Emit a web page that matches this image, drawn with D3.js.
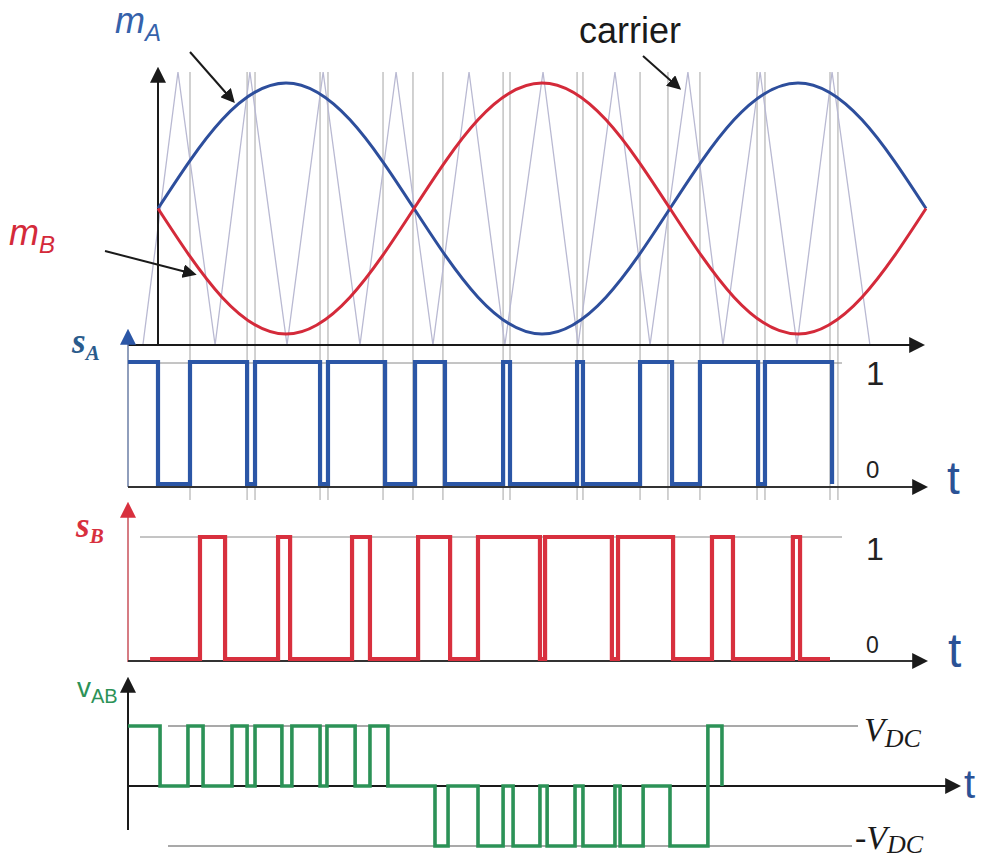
<!DOCTYPE html>
<html><head><meta charset="utf-8">
<script src="https://cdn.jsdelivr.net/npm/d3@7/dist/d3.min.js"></script>
<style>html,body{margin:0;padding:0;background:#fff;}svg{display:block;}</style>
</head><body>
<script>
// ---------- data (time in ms, modulating period 20 ms) ----------
const modT  = [0, 2.5, 5, 7.5, 10, 12.5, 15, 17.5, 20, 22.5, 25, 27.5, 30];
const mA    = [0, 0.65, 0.92, 0.65, 0, -0.65, -0.92, -0.65, 0, 0.65, 0.92, 0.65, 0];
const mB    = [0, -0.65, -0.92, -0.65, 0, 0.65, 0.92, 0.65, 0, -0.65, -0.92, -0.65, 0];
const carrierT = [-0.59, 0.78, 2.23, 3.59, 5.04, 6.45, 7.89, 9.30, 10.74, 12.15, 13.55,
                  15.04, 16.41, 17.85, 19.22, 20.70, 22.07, 23.52, 24.96, 26.33, 27.81];
const carrierV = [-1, 1, -1, 1, -1, 1, -1, 1, -1, 1, -1, 1, -1, 1, -1, 1, -1, 1, -1, 1, -1];
const switchT = [1.25, 3.48, 3.79, 6.33, 6.64, 8.79, 9.96, 11.13, 13.48, 13.75, 16.37,
                 16.60, 18.83, 19.92, 21.17, 23.40, 23.71, 26.25, 26.56];
const sAT = [-1.17, 0, 1.25, 3.48, 3.79, 6.33, 6.64, 8.87, 10.04, 11.21, 13.48, 13.75,
             16.37, 16.60, 18.83, 20.08, 21.17, 23.44, 23.71, 26.33];
const sAV = [1, 0, 1, 0, 1, 0, 1, 0, 1, 0, 1, 0, 1, 0, 1, 0, 1, 0, 1, 0];
const sBT = [-0.31, 1.64, 2.62, 4.69, 5.16, 7.58, 8.28, 10.16, 11.41, 12.50, 14.92, 15.12,
             17.73, 17.97, 20.12, 21.64, 22.46, 24.80, 25.08, 26.25];
const sBV = [0, 1, 0, 1, 0, 1, 0, 1, 0, 1, 0, 1, 0, 1, 0, 1, 0, 1, 0, 0];
const vT = [-1.17, 0.08, 1.17, 1.76, 2.89, 3.48, 3.79, 4.84, 5.23, 6.33, 6.60, 7.70, 8.28,
            8.98, 10.82, 11.33, 12.50, 13.48, 13.87, 14.92, 15.20, 16.29, 16.60, 17.85,
            18.05, 18.95, 20.00, 21.48, 22.03];
const vV = [1, 0, 1, 0, 1, 0, 1, 0, 1, 0, 1, 0, 1, 0, -1, 0, -1, 0, -1, 0, -1, 0, -1, 0,
            -1, 0, -1, 1, 0];
const levelLabels = ["1", "0"];

// ---------- layout ----------
const W = 984, H = 863;
const svg = d3.select("body").append("svg").attr("width", W).attr("height", H);
const x = d3.scaleLinear().domain([0, 30]).range([158, 926]);
const yTop = d3.scaleLinear().domain([-1, 1]).range([345, 72]);
const ySA = d3.scaleLinear().domain([0, 1]).range([484, 362]);
const ySB = d3.scaleLinear().domain([0, 1]).range([659, 537]);
const yV  = d3.scaleLinear().domain([-1, 1]).range([846, 726]);

const C = { blue: "#2d4e9c", red: "#d42a3a", sA: "#2b56a6", sB: "#d8303e",
            green: "#2c9257", carrier: "#b9b9d2", grid: "#b3b3b3", axis: "#1a1a1a",
            tblue: "#2b5296" };

const defs = svg.append("defs");
function marker(id, color, size) {
  defs.append("marker").attr("id", id).attr("viewBox", "0 0 10 10")
    .attr("refX", 8).attr("refY", 5).attr("markerWidth", size).attr("markerHeight", size)
    .attr("markerUnits", "userSpaceOnUse").attr("orient", "auto")
    .append("path").attr("d", "M0,0 L10,5 L0,10 Z").attr("fill", color);
}
marker("aBlack", C.axis, 16);
marker("aBlue", C.sA, 16);
marker("aRed", C.sB, 16);
marker("aSmall", C.axis, 14);

function seg(x1, y1, x2, y2, stroke, w, mk) {
  const l = svg.append("line").attr("x1", x1).attr("y1", y1).attr("x2", x2).attr("y2", y2)
    .attr("stroke", stroke).attr("stroke-width", w);
  if (mk) l.attr("marker-end", "url(#" + mk + ")");
  return l;
}

// ---------- switching instant guide lines ----------
svg.append("g").selectAll("line").data(switchT).join("line")
  .attr("x1", d => x(d)).attr("x2", d => x(d)).attr("y1", 72).attr("y2", 500)
  .attr("stroke", C.grid).attr("stroke-width", 1.2);

// ---------- carrier ----------
const carrierPts = carrierT.map((t, i) => [t, carrierV[i]]);
svg.append("path").datum(carrierPts)
  .attr("d", d3.line().x(d => x(d[0])).y(d => yTop(d[1])))
  .attr("fill", "none").attr("stroke", C.carrier).attr("stroke-width", 1.3);

// ---------- top axes ----------
seg(128, 345, 922, 345, C.axis, 2.2, "aBlack");
seg(158, 345, 158, 70, C.axis, 2, "aBlack");

// ---------- modulating signals ----------
const sineLine = d3.line().x(d => x(d[0])).y(d => yTop(d[1])).curve(d3.curveNatural);
svg.append("path").datum(modT.map((t, i) => [t, mA[i]])).attr("d", sineLine)
  .attr("fill", "none").attr("stroke", C.blue).attr("stroke-width", 3);
svg.append("path").datum(modT.map((t, i) => [t, mB[i]])).attr("d", sineLine)
  .attr("fill", "none").attr("stroke", C.red).attr("stroke-width", 3);

// ---------- s_A panel ----------
seg(128, 363, 842, 363, "#8a8a8a", 1);
seg(128, 487, 128, 332, "#6b7ea6", 1.5, "aBlue");
seg(128, 487, 925, 487, "#333", 2, "aBlack");
const stepLine = y => d3.line().x(d => x(d[0])).y(d => y(d[1])).curve(d3.curveStepAfter);
svg.append("path").datum(sAT.map((t, i) => [t, sAV[i]])).attr("d", stepLine(ySA))
  .attr("fill", "none").attr("stroke", C.sA).attr("stroke-width", 4.2);

// ---------- s_B panel ----------
seg(140, 537, 842, 537, "#8a8a8a", 1);
seg(128, 662, 128, 505, "#c8505a", 1.5, "aRed");
seg(128, 661, 925, 661, "#333", 2, "aBlack");
svg.append("path").datum(sBT.map((t, i) => [t, sBV[i]])).attr("d", stepLine(ySB))
  .attr("fill", "none").attr("stroke", C.sB).attr("stroke-width", 4.2);

// ---------- v_AB panel ----------
seg(168, yV(1), 858, yV(1), "#555", 1.2);
seg(168, yV(-1), 852, yV(-1), "#555", 1.2);
seg(128, 830, 128, 680, C.axis, 2, "aBlack");
seg(128, yV(0), 958, yV(0), C.axis, 2, "aBlack");
svg.append("path").datum(vT.map((t, i) => [t, vV[i]])).attr("d", stepLine(yV))
  .attr("fill", "none").attr("stroke", C.green).attr("stroke-width", 3.6);

// ---------- labels ----------
function sub(xp, yp, main, s, color, size, subSize, family, style, weight, dy) {
  const t = svg.append("text").attr("x", xp).attr("y", yp).attr("fill", color)
    .attr("font-family", family).attr("font-style", style).attr("font-weight", weight)
    .attr("font-size", size);
  t.append("tspan").text(main);
  t.append("tspan").attr("font-size", subSize).attr("dy", dy).text(s);
  return t;
}
const sans = "'Liberation Sans', Arial, sans-serif";
const serif = "'Liberation Serif', 'DejaVu Serif', serif";
sub(115, 33, "m", "A", "#3562ab", 36, 24, sans, "italic", "normal", 8);
sub(9, 245, "m", "B", C.red, 36, 24, sans, "italic", "normal", 8);
svg.append("text").attr("x", 579).attr("y", 43).attr("font-family", sans)
  .attr("font-size", 36).attr("fill", "#1a1a1a").text("carrier");
sub(72, 353, "s", "A", "#2a5b8c", 35, 21, serif, "italic", "bold", 7);
sub(76, 537, "s", "B", C.sB, 35, 21, serif, "italic", "bold", 6);
sub(77, 697, "v", "AB", C.green, 28, 20, sans, "normal", "normal", 6);

seg(190, 52, 233, 101, C.axis, 2, "aSmall");
seg(105, 251, 194, 274, C.axis, 2, "aSmall");
seg(643, 56, 679, 88, C.axis, 2, "aSmall");

// level labels [x, baseline, label index, font size]
const lvl = [[866, 385, 0, 33], [866, 478, 1, 24], [866, 560, 0, 32], [866, 653, 1, 23]];
svg.append("g").selectAll("text").data(lvl).join("text")
  .attr("x", d => d[0]).attr("y", d => d[1]).attr("font-family", sans)
  .attr("font-size", d => d[3]).attr("fill", "#222").text(d => levelLabels[d[2]]);

// t labels
[[947, 494, 46], [948, 667, 48], [964, 798, 40]].forEach(p => {
  svg.append("text").attr("x", p[0]).attr("y", p[1]).attr("font-family", sans)
    .attr("font-size", p[2]).attr("fill", C.tblue).text("t");
});

sub(864, 741, "V", "DC", "#1a1a1a", 34, 26, serif, "italic", "normal", 6);
sub(855, 849, "-V", "DC", "#1a1a1a", 34, 26, serif, "italic", "normal", 4);
</script>
</body></html>
